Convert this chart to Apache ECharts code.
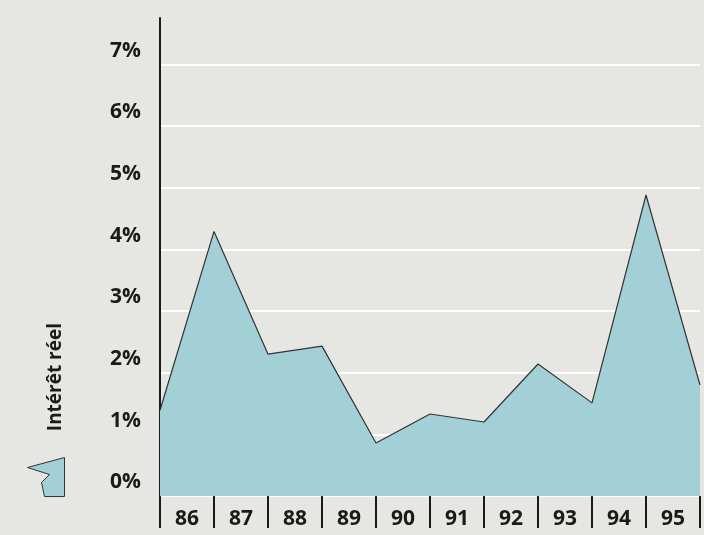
<!DOCTYPE html>
<html>
<head>
<meta charset="utf-8">
<script src="https://cdn.jsdelivr.net/npm/echarts@6/dist/echarts.min.js"></script>
<style>
  html, body { margin: 0; padding: 0; background: #e6e6e3; }
  #chart { width: 704px; height: 535px; }
</style>
</head>
<body>
<div id="chart"></div>
<script>
// year labels sit between the tick marks
var years = ['86', '87', '88', '89', '90', '91', '92', '93', '94', '95']
// the line breaks at the year boundaries (start of 86 ... end of 95)
var boundaries = [86, 87, 88, 89, 90, 91, 92, 93, 94, 95, 96]
var rates = [1.39, 4.29, 2.30, 2.43, 0.86, 1.33, 1.20, 2.14, 1.51, 4.88, 1.80]
var yTicks = [0, 1, 2, 3, 4, 5, 6, 7]

var points = boundaries.map(function (b, i) { return [b, rates[i]] })
var fontFam = '"Open Sans", "DejaVu Sans", sans-serif'

var myChart = echarts.init(document.getElementById('chart'))
var option = {
    backgroundColor: '#e6e6e3',
    animation: false,
    grid: { left: 160, right: 4, top: 18, bottom: 39, containLabel: false },
    legend: {
        left: 27,
        top: 457,
        padding: 0,
        itemWidth: 37,
        itemHeight: 39,
        data: [{
            name: 'Intérêt réel',
            icon: 'path://M0,10 L37,0 L37,39 L17,39 L14,25 L22,17 Z',
            itemStyle: { color: '#a3cfd6', borderColor: '#333', borderWidth: 1 }
        }],
        formatter: function () { return '' },
        selectedMode: false
    },
    graphic: [{
        type: 'text',
        left: 46,
        top: 323,
        rotation: Math.PI / 2,
        style: {
            text: 'Intérêt réel',
            font: 'bold 19px ' + fontFam,
            fill: '#1a1a1a'
        }
    }],
    xAxis: [{
        type: 'category',
        data: years,
        boundaryGap: true,
        offset: 7,
        axisLine: { show: false },
        axisTick: { show: true, length: 32, lineStyle: { color: '#1a1a1a', width: 2 } },
        axisLabel: {
            margin: 6,
            color: '#1a1a1a',
            fontSize: 21,
            fontWeight: 'bold',
            fontFamily: fontFam
        },
        splitLine: { show: false }
    }, {
        type: 'value',
        min: 86,
        max: 96,
        show: false
    }],
    yAxis: {
        type: 'value',
        min: 0,
        max: 7.75,
        interval: 1,
        axisLine: { show: true, lineStyle: { color: '#1a1a1a', width: 2 } },
        axisTick: { show: false },
        axisLabel: {
            margin: 19,
            verticalAlign: 'bottom',
            padding: [0, 0, 3, 0],
            color: '#1a1a1a',
            fontSize: 21,
            fontWeight: 'bold',
            fontFamily: fontFam,
            formatter: function (v) {
                return yTicks.indexOf(v) >= 0 ? v + '%' : ''
            }
        },
        splitLine: {
            show: true,
            lineStyle: {
                color: ['#ffffff', '#ffffff', '#ffffff', '#ffffff', '#ffffff', '#ffffff', '#ffffff', '#ffffff', 'rgba(0,0,0,0)'],
                width: 2
            }
        }
    },
    series: [{
        name: 'Intérêt réel',
        type: 'line',
        xAxisIndex: 1,
        data: points,
        symbol: 'none',
        z: 1,
        lineStyle: { color: '#333333', width: 1.2 },
        itemStyle: { color: '#a3cfd6' },
        areaStyle: { color: '#a3cfd6', opacity: 1 }
    }]
}
myChart.setOption(option)
</script>
</body>
</html>
